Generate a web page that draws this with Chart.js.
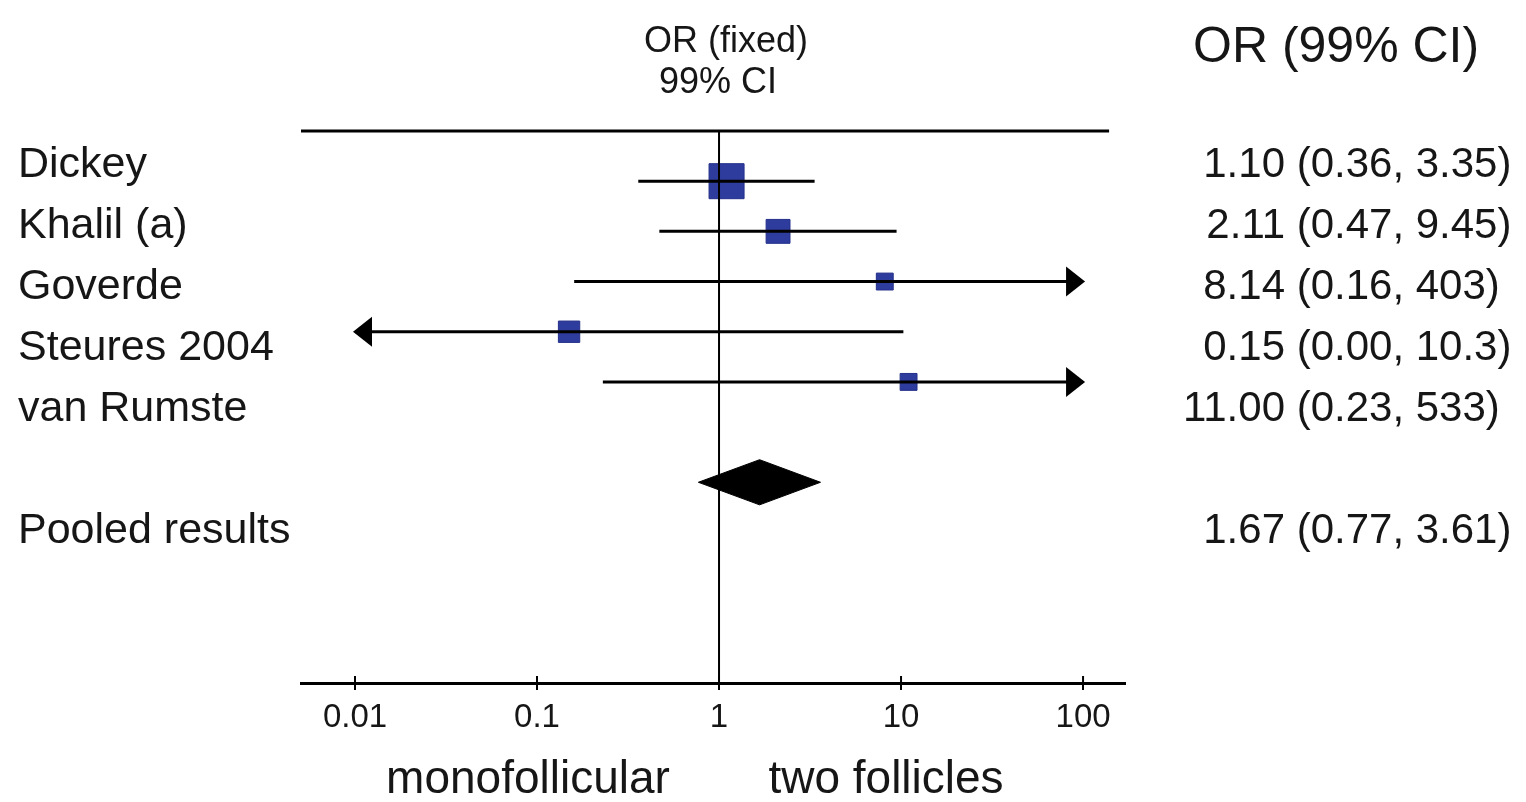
<!DOCTYPE html>
<html lang="en">
<head>
    <meta charset="UTF-8">
    <title>Forest plot</title>
    <script src="https://cdn.jsdelivr.net/npm/chart.js"></script>
    <style>
        body { margin: 0; background: #fff; }
        #wrap { width: 1526px; height: 802px; position: relative; }
    </style>
</head>
<body>
    <div id="wrap"><canvas id="forest"></canvas></div>
    <script>
        const studies = ['Dickey', 'Khalil (a)', 'Goverde', 'Steures 2004', 'van Rumste'];
        const oddsRatio = [1.10, 2.11, 8.14, 0.15, 11.00];
        const ciLower = [0.36, 0.47, 0.16, 0.00, 0.23];
        const ciUpper = [3.35, 9.45, 403, 10.3, 533];
        const weights = [43, 20, 10, 16, 10];

        const pooledLabel = 'Pooled results';
        const pooledOR = 1.67;
        const pooledLower = 0.77;
        const pooledUpper = 3.61;

        const xTicks = [0.01, 0.1, 1, 10, 100];
        const sideLabels = ['monofollicular', 'two follicles'];

        // plot range and arrow cut-offs
        const plotMin = 0.01, plotMax = 100;
        const pooledRow = 6;

        const fmt = v => v.toFixed(2);
        const fmtCI = v => v >= 100 ? v.toFixed(0) : (v >= 10 ? v.toFixed(1) : v.toFixed(2));

        const datasets = [];

        // reference line at OR = 1
        datasets.push({
            type: 'line', data: [{ x: 1, y: -1 }, { x: 1, y: 10 }],
            borderColor: '#000', borderWidth: 2, pointRadius: 0, clip: false
        });
        // top rule
        datasets.push({
            type: 'line', data: [{ x: 0.00505, y: -1 }, { x: 139, y: -1 }],
            borderColor: '#000', borderWidth: 3, pointRadius: 0, clip: false
        });

        // confidence intervals
        studies.forEach((s, i) => {
            datasets.push({
                type: 'line',
                data: [{ x: Math.max(ciLower[i], plotMin), y: i }, { x: Math.min(ciUpper[i], plotMax), y: i }],
                borderColor: '#000', borderWidth: 3, pointRadius: 0, clip: false
            });
        });

        // study boxes
        datasets.push({
            type: 'scatter',
            data: oddsRatio.map((v, i) => ({ x: v, y: i })),
            pointStyle: 'rect',
            pointRadius: weights.map(w => 2.67 * Math.sqrt(w) / Math.SQRT1_2),
            backgroundColor: '#2e3c9e',
            borderColor: '#24308a',
            borderWidth: 1,
            clip: false
        });

        // pooled diamond
        datasets.push({
            type: 'line',
            data: [
                { x: pooledLower, y: pooledRow },
                { x: pooledOR, y: pooledRow - 0.45 },
                { x: pooledUpper, y: pooledRow },
                { x: pooledOR, y: pooledRow + 0.45 },
                { x: pooledLower, y: pooledRow }
            ],
            borderColor: '#000', borderWidth: 1, backgroundColor: '#000',
            fill: 'shape', pointRadius: 0, tension: 0, clip: false
        });

        const textFont = '"Liberation Sans", Arial, sans-serif';

        const forestText = {
            id: 'forestText',
            afterDraw(chart) {
                const ctx = chart.ctx;
                const xs = chart.scales.x;
                const ys = chart.scales.y;
                ctx.save();

                // arrows for intervals running off the scale
                ctx.fillStyle = '#000';
                studies.forEach((s, i) => {
                    const y = ys.getPixelForValue(i);
                    if (ciUpper[i] > plotMax) {
                        const x = xs.getPixelForValue(plotMax);
                        ctx.beginPath();
                        ctx.moveTo(x + 2, y);
                        ctx.lineTo(x - 17, y - 15);
                        ctx.lineTo(x - 17, y + 15);
                        ctx.closePath();
                        ctx.fill();
                    }
                    if (ciLower[i] < plotMin) {
                        const x = xs.getPixelForValue(plotMin);
                        ctx.beginPath();
                        ctx.moveTo(x - 2, y);
                        ctx.lineTo(x + 17, y - 15);
                        ctx.lineTo(x + 17, y + 15);
                        ctx.closePath();
                        ctx.fill();
                    }
                });

                // upward tick stubs on the axis
                ctx.strokeStyle = '#000';
                ctx.lineWidth = 2;
                const yb = chart.chartArea.bottom;
                xTicks.forEach(t => {
                    const x = xs.getPixelForValue(t);
                    ctx.beginPath();
                    ctx.moveTo(x, yb);
                    ctx.lineTo(x, yb - 7);
                    ctx.stroke();
                });

                ctx.fillStyle = '#161616';
                ctx.textBaseline = 'middle';

                // column headers
                ctx.textAlign = 'center';
                ctx.font = '36px ' + textFont;
                ctx.fillText('OR (fixed)', 726, 42);
                ctx.fillText('99% CI', 718, 83);
                ctx.font = '50px ' + textFont;
                ctx.textAlign = 'left';
                ctx.fillText('OR (99% CI)', 1193, 48);

                // row labels and estimates
                const rows = studies.map((s, i) => ({
                    label: s, or: oddsRatio[i], lo: ciLower[i], hi: ciUpper[i], y: 165 + 61 * i
                }));
                rows.push({ label: pooledLabel, or: pooledOR, lo: pooledLower, hi: pooledUpper, y: 531 });
                rows.forEach(r => {
                    ctx.font = '43px ' + textFont;
                    ctx.textAlign = 'left';
                    ctx.fillText(r.label, 18, r.y);
                    ctx.font = '42px ' + textFont;
                    ctx.textAlign = 'right';
                    ctx.fillText(fmt(r.or), 1285, r.y);
                    ctx.textAlign = 'left';
                    ctx.fillText(' (' + fmt(r.lo) + ', ' + fmtCI(r.hi) + ')', 1285, r.y);
                });

                // direction labels under the axis
                ctx.textAlign = 'center';
                ctx.font = '46px ' + textFont;
                ctx.fillText(sideLabels[0], 528, 780);
                ctx.fillText(sideLabels[1], 886, 780);

                ctx.restore();
            }
        };

        new Chart(document.getElementById('forest'), {
            type: 'scatter',
            data: { datasets: datasets },
            options: {
                responsive: true,
                maintainAspectRatio: false,
                animation: false,
                layout: { padding: { left: 301, right: 401, top: 131, bottom: 0 } },
                plugins: { legend: { display: false }, tooltip: { enabled: false } },
                scales: {
                    x: {
                        type: 'logarithmic',
                        min: 0.00505,
                        max: 170,
                        afterBuildTicks: scale => { scale.ticks = xTicks.map(v => ({ value: v })); },
                        afterFit: scale => { scale.height = 119; },
                        border: { display: true, color: '#000', width: 3 },
                        grid: { display: true, drawOnChartArea: false, drawTicks: true, tickLength: 7, color: '#000', lineWidth: 2 },
                        ticks: {
                            color: '#161616',
                            padding: 8,
                            maxRotation: 0,
                            autoSkip: false,
                            font: { family: textFont, size: 33 },
                            callback: v => String(v)
                        }
                    },
                    y: {
                        type: 'linear',
                        min: -1,
                        max: 10,
                        reverse: true,
                        display: false
                    }
                }
            },
            plugins: [forestText]
        });
    </script>
</body>
</html>
